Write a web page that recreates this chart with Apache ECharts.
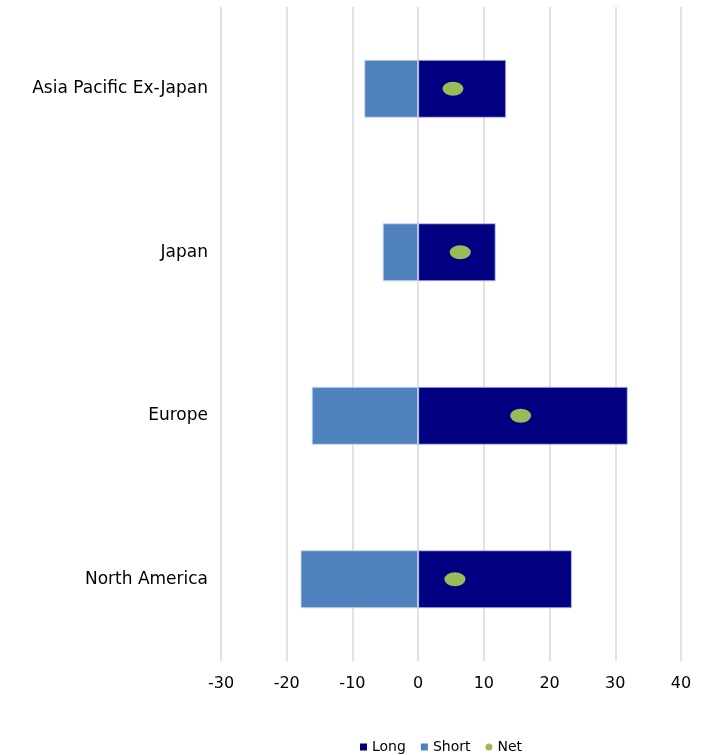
<!DOCTYPE html>
<html><head><meta charset="utf-8">
<script src="https://cdn.jsdelivr.net/npm/echarts@6/dist/echarts.min.js"></script>
<style>html,body{margin:0;padding:0;background:#fff}#c{width:704px;height:755px}</style>
</head><body><div id="c"></div>
<script>
const categories = ['Asia Pacific Ex-Japan', 'Japan', 'Europe', 'North America'];
const longValues = [13.4, 11.8, 31.9, 23.4];
const shortValues = [-8.2, -5.4, -16.2, -17.9];
const netValues = [5.3, 6.4, 15.6, 5.6];
const xTicks = [-30, -20, -10, 0, 10, 20, 30, 40];

const chart = echarts.init(document.getElementById('c'));
const font = 'DejaVu Sans, Liberation Sans, Arial, sans-serif';
chart.setOption({
  animation: false,
  backgroundColor: '#fff',
  grid: { left: 221, right: 23, top: 7, bottom: 94 },
  xAxis: {
    type: 'value', min: xTicks[0], max: xTicks[xTicks.length - 1], interval: 10,
    axisLine: { show: false }, axisTick: { show: false },
    axisLabel: { color: '#000', fontSize: 16, fontFamily: font, margin: 15 },
    splitLine: { lineStyle: { color: '#d9d9d9', width: 1.5 } }
  },
  yAxis: {
    type: 'category', data: categories, inverse: true,
    axisLine: { show: false }, axisTick: { show: false },
    axisLabel: { color: '#000', fontSize: 17, fontFamily: font, margin: 13 }
  },
  legend: {
    left: 355, top: 735,
    itemWidth: 7, itemHeight: 7, itemGap: 15,
    itemStyle: { borderWidth: 0 },
    textStyle: { color: '#000', fontSize: 14, fontFamily: font },
    data: [
      { name: 'Long', icon: 'rect' },
      { name: 'Short', icon: 'rect' },
      { name: 'Net', icon: 'circle' }
    ]
  },
  series: [
    {
      name: 'Long', type: 'bar', data: longValues, barWidth: 58, barGap: '-100%',
      itemStyle: { color: '#000080', borderColor: 'rgba(190,190,235,0.8)', borderWidth: 1 }
    },
    {
      name: 'Short', type: 'bar', data: shortValues, barWidth: 58,
      itemStyle: { color: '#4F81BD', borderColor: 'rgba(200,215,240,0.9)', borderWidth: 1 }
    },
    {
      name: 'Net', type: 'scatter', symbol: 'circle', symbolSize: [21, 14],
      data: netValues.map((v, i) => [v, i]),
      itemStyle: { color: '#9BBB59', opacity: 1 }, z: 5
    }
  ]
});
</script></body></html>
